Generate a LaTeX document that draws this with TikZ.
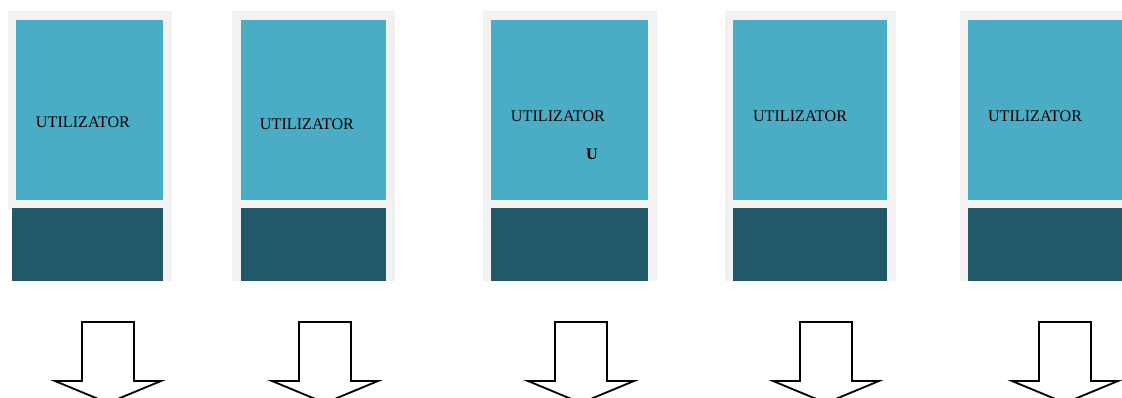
\documentclass[tikz,border=0pt]{standalone}
\usepackage{fontspec}
\setmainfont{Liberation Serif}
\usetikzlibrary{positioning}
\definecolor{panelgrey}{HTML}{F2F2F2}
\definecolor{userblue}{HTML}{4BACC6}
\definecolor{userdark}{HTML}{215968}
\tikzset{%
  x=0.025cm, y=-0.025cm,
  frame/.style={fill=panelgrey},
  topbox/.style={fill=userblue},
  lowbox/.style={fill=userdark},
  label/.style={font=\fontsize{11.5}{13}\selectfont, inner sep=0pt},
  blockarrow/.style={draw=black, fill=white, line width=1.3pt, line join=miter}
}
% one down arrow, centred at #1
\newcommand{\downarrowat}[1]{%
  \draw[blockarrow] (#1-26,322) -- (#1+26,322) -- (#1+26,381) -- (#1+53,381)
    -- (#1,403) -- (#1-53,381) -- (#1-26,381) -- cycle;
}

\begin{document}
\begin{tikzpicture}
  \useasboundingbox (0,0) rectangle (1122,398);
  \clip (0,0) rectangle (1122,398);

  % panel 1
  \fill[frame] (8,11) rectangle (172,209);
  \fill[frame] (163,209) rectangle (172,281);
  \fill[topbox] (16,20) rectangle (163,200);
  \fill[lowbox] (12,208) rectangle (163,281);
  \node[label] (user1) at (83,122) {UTILIZATOR};

  % panel 2
  \fill[frame] (232,11) rectangle (395,281);
  \fill[topbox] (241,20) rectangle (386,200);
  \fill[lowbox] (241,208) rectangle (386,281);
  \node[label] (user2) at (307,124) {UTILIZATOR};

  % panel 3
  \fill[frame] (483,11) rectangle (657,281);
  \fill[topbox] (491,20) rectangle (648,200);
  \fill[lowbox] (491,208) rectangle (648,281);
  \node[label] (user3) at (558,116) {UTILIZATOR};
  \node[label, font=\fontsize{11.5}{13}\selectfont\bfseries] (initial3) at (592,154) {U};

  % panel 4
  \fill[frame] (725,11) rectangle (896,281);
  \fill[topbox] (733,20) rectangle (887,200);
  \fill[lowbox] (733,208) rectangle (887,281);
  \node[label] (user4) at (800,116) {UTILIZATOR};

  % panel 5
  \fill[frame] (960,11) rectangle (1122,281);
  \fill[topbox] (968,20) rectangle (1122,200);
  \fill[lowbox] (968,208) rectangle (1122,281);
  \node[label] (user5) at (1035,116) {UTILIZATOR};

  % arrows
  \downarrowat{108}
  \downarrowat{325}
  \downarrowat{581}
  \downarrowat{826}
  \downarrowat{1065}
\end{tikzpicture}
\end{document}
